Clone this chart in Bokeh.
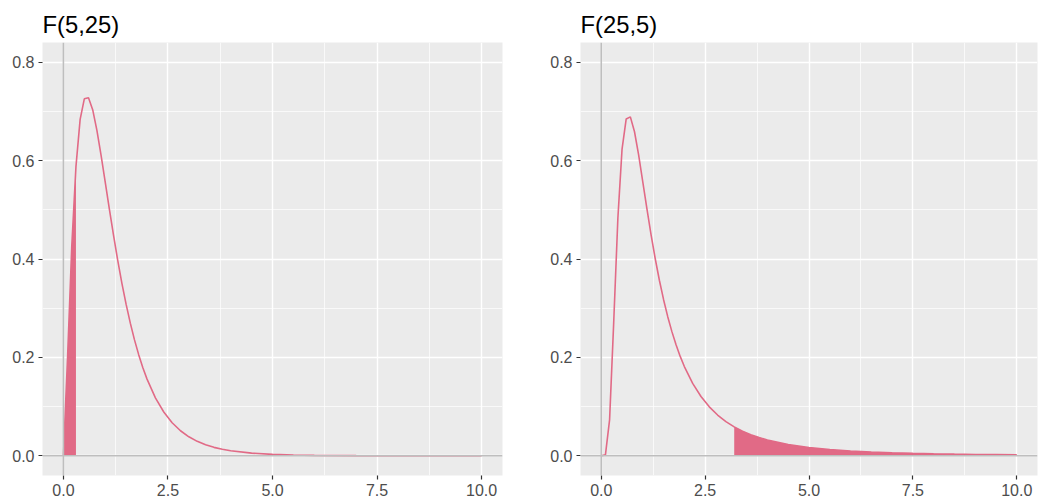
from bokeh.plotting import figure
from bokeh.layouts import row
from bokeh.models import Range1d, FixedTicker, PrintfTickFormatter, Span
from bokeh.embed import file_html
from bokeh.resources import INLINE

# F(5,25) density
x_a = [0.0, 0.1, 0.2, 0.3, 0.4, 0.5, 0.6, 0.7, 0.8, 0.9, 1.0,
       1.1, 1.2, 1.3, 1.4, 1.5, 1.6, 1.7, 1.8, 1.9, 2.0,
       2.2, 2.4, 2.6, 2.8, 3.0, 3.2, 3.4, 3.6, 3.8, 4.0,
       4.5, 5.0, 5.5, 6.0, 7.0, 8.0, 9.0, 10.0]
y_a = [0.0, 0.2014, 0.4258, 0.5878, 0.6837, 0.7256, 0.7279, 0.7034, 0.6620, 0.6113, 0.5564,
       0.5010, 0.4473, 0.3967, 0.3501, 0.3077, 0.2696, 0.2356, 0.2056, 0.1791, 0.1559,
       0.1179, 0.0890, 0.0673, 0.0509, 0.0386, 0.0294, 0.0224, 0.0172, 0.0132, 0.0102,
       0.0054, 0.0029, 0.0016, 0.0009, 0.0003, 0.0001, 0.00005, 0.00002]

# F(25,5) density
x_b = [0.0, 0.1, 0.2, 0.3, 0.4, 0.5, 0.6, 0.7, 0.8, 0.9, 1.0,
       1.1, 1.2, 1.3, 1.4, 1.5, 1.6, 1.7, 1.8, 1.9, 2.0,
       2.2, 2.4, 2.6, 2.8, 3.0, 3.2, 3.4, 3.6, 3.8, 4.0,
       4.5, 5.0, 5.5, 6.0, 6.5, 7.0, 7.5, 8.0, 8.5, 9.0, 9.5, 10.0]
y_b = [0.0, 0.0019, 0.0731, 0.2726, 0.4837, 0.6234, 0.6847, 0.6888, 0.6586, 0.6110, 0.5564,
       0.5012, 0.4485, 0.4000, 0.3563, 0.3173, 0.2828, 0.2524, 0.2256, 0.2020, 0.1814,
       0.1472, 0.1205, 0.0995, 0.0829, 0.0696, 0.0589, 0.0502, 0.0430, 0.0371, 0.0322,
       0.0231, 0.0170, 0.0129, 0.0099, 0.0078, 0.0062, 0.0050, 0.0041, 0.0034, 0.0028,
       0.0024, 0.0020]

titles = ["F(5,25)", "F(25,5)"]
cut_a = 0.3   # shaded lower tail: x <= cut_a
cut_b = 3.2   # shaded upper tail: x >= cut_b

x_ticks = [0, 2.5, 5, 7.5, 10]
x_minor = [1.25, 3.75, 6.25, 8.75]
y_ticks = [0.0, 0.2, 0.4, 0.6, 0.8]
y_minor = [0.1, 0.3, 0.5, 0.7]

COL = "#E16A86"
FONT = "Liberation Sans"


def make_panel(title, xs, ys, fx, fy, width, border_left, border_right):
    p = figure(width=width, height=500, output_backend="svg", toolbar_location=None,
               x_range=Range1d(-0.5, 10.5), y_range=Range1d(-0.04, 0.84),
               min_border_left=border_left, min_border_right=border_right,
               min_border_top=42, min_border_bottom=25)
    p.title.text = title
    p.title.text_font = FONT
    p.title.text_font_size = "23.8px"
    p.title.text_font_style = "normal"
    p.title.text_color = "black"
    p.title.align = "left"
    p.title.offset = 0
    p.title.standoff = 10
    p.background_fill_color = "#EBEBEB"
    p.border_fill_color = "white"
    p.outline_line_color = None

    for ax, maj, mnr in ((p.xaxis, x_ticks, x_minor), (p.yaxis, y_ticks, y_minor)):
        ax.ticker = FixedTicker(ticks=maj, minor_ticks=mnr)
        ax.formatter = PrintfTickFormatter(format="%.1f")
        ax.axis_line_color = None
        ax.major_tick_line_color = "#333333"
        ax.major_tick_line_width = 1.2
        ax.major_tick_out = 4
        ax.major_tick_in = 0
        ax.minor_tick_line_color = None
        ax.major_label_text_font = FONT
        ax.major_label_text_font_size = "16px"
        ax.major_label_text_color = "#4D4D4D"
        ax.major_label_standoff = 4

    for g in (p.xgrid, p.ygrid):
        g.grid_line_color = "white"
        g.grid_line_width = 1.4
        g.minor_grid_line_color = "white"
        g.minor_grid_line_width = 0.7

    p.add_layout(Span(location=0, dimension="height", line_color="#BEBEBE", line_width=1.6))
    p.add_layout(Span(location=0, dimension="width", line_color="#BEBEBE", line_width=1.6))

    p.varea(x=fx, y1=[0] * len(fx), y2=fy, fill_color=COL, fill_alpha=1.0)
    p.line(xs, ys, line_color=COL, line_width=1.6)
    return p


fa = [(x, y) for x, y in zip(x_a, y_a) if x <= cut_a + 1e-9]
fb = [(x, y) for x, y in zip(x_b, y_b) if x >= cut_b - 1e-9]

p1 = make_panel(titles[0], x_a, y_a, [v[0] for v in fa], [v[1] for v in fa],
                width=520, border_left=42, border_right=18)
p2 = make_panel(titles[1], x_b, y_b, [v[0] for v in fb], [v[1] for v in fb],
                width=518, border_left=60, border_right=1)

layout = row(p1, p2)
open("out.html", "w").write(file_html(layout, INLINE))
